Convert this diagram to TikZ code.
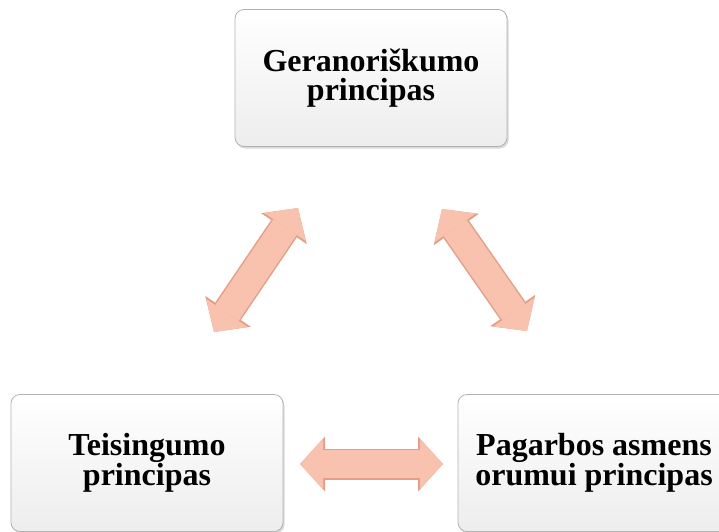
\documentclass[tikz,border=0pt]{standalone}
\usepackage{fontspec}
\setmainfont{Liberation Serif}
\usetikzlibrary{arrows.meta,shadows,positioning}
\definecolor{peach}{RGB}{248,194,174}
\definecolor{peachedge}{RGB}{226,160,138}
\tikzset{box/.style={draw=gray!60,line width=0.8pt,rounded corners=9pt,top color=white,bottom color=gray!14,minimum width=272pt,minimum height=137pt,align=center,font=\fontsize{32}{29}\selectfont\bfseries,drop shadow={opacity=0.3,shadow xshift=1.5pt,shadow yshift=-2pt}}}
\tikzset{peachtip/.tip={Triangle[length=23pt,width=50pt,line width=0pt]}}
\tikzset{edgetip/.tip={Triangle[length=25pt,width=55pt,line width=0pt]}}
\tikzset{linkedge/.style={draw=peachedge,line width=31pt,edgetip-edgetip}}
\tikzset{link/.style={draw=peach,line width=28pt,peachtip-peachtip}}

\begin{document}
\begin{tikzpicture}[x=1pt,y=-1pt]
    \useasboundingbox (0,0) rectangle (719,531);
    \clip (0,0) rectangle (719,531);

    \node[box] (geran) at (371,78) {Geranoriškumo\\principas};
    \node[box] (teis) at (147,463) {Teisingumo\\principas};
    \node[box] (pagarb) at (594,463) {Pagarbos asmens\\orumui principas};

    \coordinate (l1) at (214,332);
    \coordinate (l2) at (298,208);
    \coordinate (r1) at (442,209);
    \coordinate (r2) at (527,331);
    \coordinate (h1) at (300,464);
    \coordinate (h2) at (443,464);

    \path[linkedge] (l1) -- (l2);
    \path[link] (l1) -- (l2);
    \path[linkedge] (r1) -- (r2);
    \path[link] (r1) -- (r2);
    \path[linkedge] (h1) -- (h2);
    \path[link] (h1) -- (h2);
\end{tikzpicture}
\end{document}
